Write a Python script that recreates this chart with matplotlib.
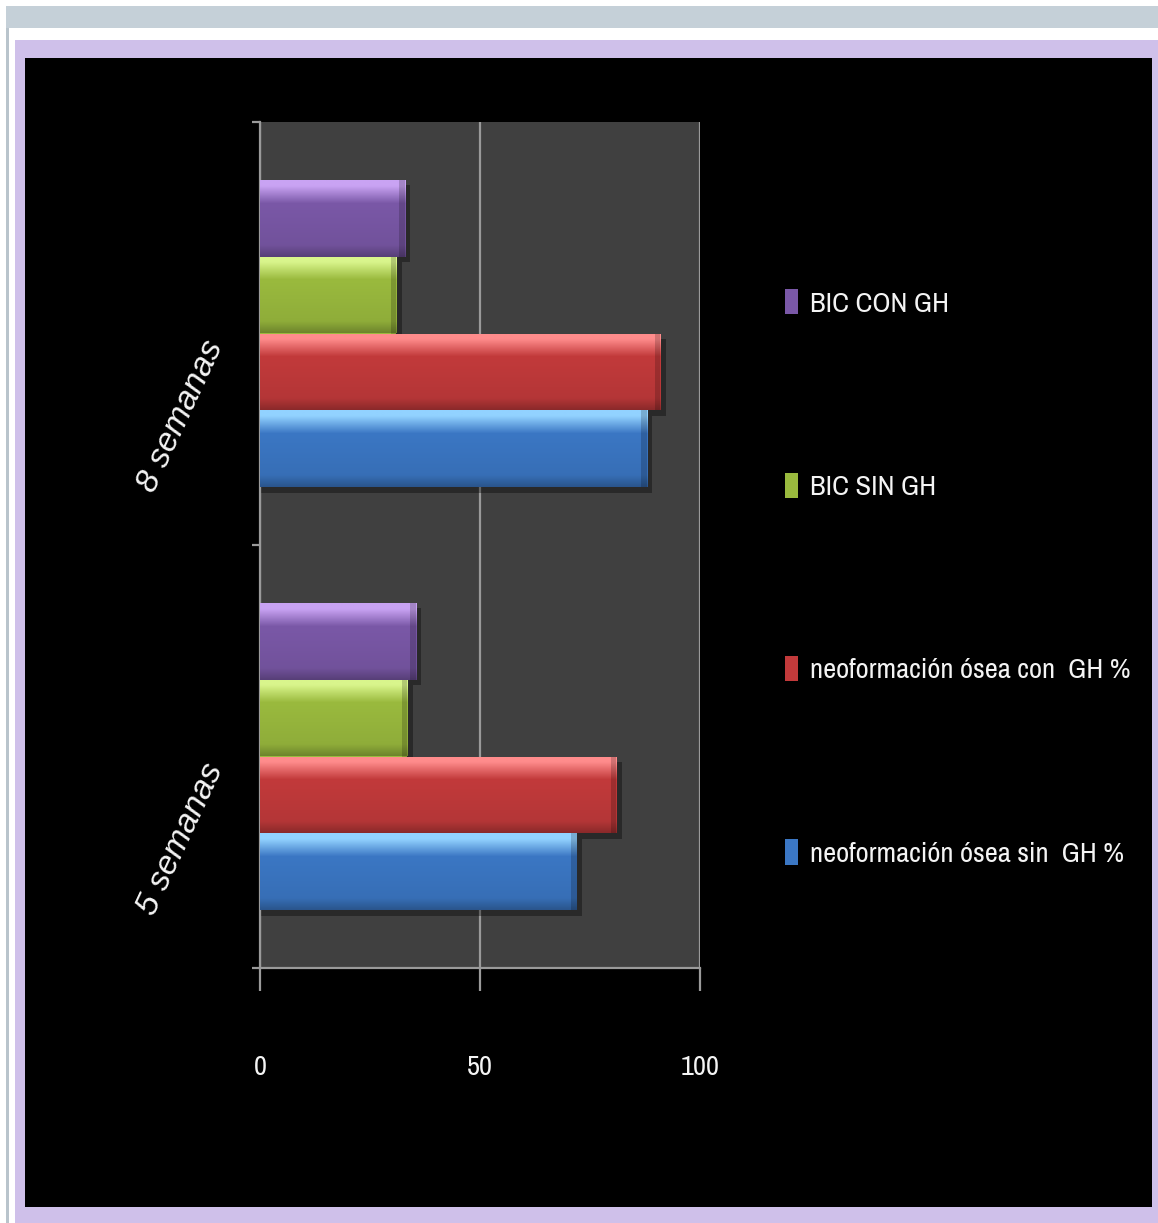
import numpy as np
import matplotlib
matplotlib.use("Agg")
import matplotlib.pyplot as plt
from matplotlib import font_manager as fm
from matplotlib.patches import Rectangle
from matplotlib.colors import to_rgb
from matplotlib.transforms import ScaledTranslation

# data
categories = ["5 semanas", "8 semanas"]
series_names = ["neoformación ósea sin  GH %", "neoformación ósea con  GH %",
                "BIC SIN GH", "BIC CON GH"]
sin_gh = [72, 88]
con_gh = [81, 91]
bic_sin = [33.5, 31]
bic_con = [35.5, 33]
series_values = [sin_gh, con_gh, bic_sin, bic_con]
x_ticks = [0, 50, 100]

body_colors = ["#3b77c4", "#c23a3b", "#9aba3e", "#7a58a7"]
light_colors = ["#92d2ff", "#ff8c8c", "#d9f58c", "#c9a3f3"]

txt_color = "#f4f4f4"
grid_color = "#9a9a9a"

# prefer a narrow face for the legend and the value axis if one is installed
narrow_file = None
for f in sorted(fm.fontManager.ttflist, key=lambda f: f.name):
    is_narrow = ("Narrow" in f.name or "Condensed" in f.name
                 or f.stretch in ("condensed", "semi-condensed", "extra-condensed"))
    if is_narrow and f.style == "normal" and f.weight in (400, "normal", "regular"):
        narrow_file = f.fname
        break
if narrow_file:
    narrow = fm.FontProperties(fname=narrow_file)
else:
    narrow = fm.FontProperties(family="Liberation Sans")

W, H = 1158, 1223
fig = plt.figure(figsize=(W / 100, H / 100), dpi=100)
fig.patch.set_facecolor("white")
renderer = fig.canvas.get_renderer()


def fit_size(text, target_px, base=20):
    # font size that gives the text the wanted width in pixels
    t = fig.text(0, 0, text, fontproperties=narrow, fontsize=base)
    w = t.get_window_extent(renderer).width
    t.remove()
    return base * target_px / w


def px_rect(x0, y0, x1, y1, color):
    # rectangle given in pixel coordinates from the top-left corner
    fig.patches.append(Rectangle((x0 / W, 1 - y1 / H), (x1 - x0) / W, (y1 - y0) / H,
                                 transform=fig.transFigure, facecolor=color,
                                 edgecolor="none", zorder=-10))


# window frame around the chart
px_rect(6, 6, W, 28, "#c5d0d8")
px_rect(6, 28, 9, H, "#b9c4cc")
px_rect(15, 40, W, H, "#cfc0ea")
px_rect(25, 58, 1152, 1207, "black")

ax = fig.add_axes([260 / W, 1 - 968 / H, 440 / W, 846 / H])
ax.set_facecolor("#404040")

n = len(series_values)
bar_h = 0.182
y = np.arange(len(categories))
offsets = (np.arange(n) - (n - 1) / 2) * bar_h

stops = [0.0, 0.07, 0.3, 0.85, 1.0]
handles = []
for i, vals in enumerate(series_values):
    body = np.array(to_rgb(body_colors[i]))
    light = np.array(to_rgb(light_colors[i]))
    cols = [light, light, body, body * 0.93, body * 0.72]
    t = np.linspace(0, 1, 64)
    grad = np.stack([np.interp(t, stops, [c[k] for c in cols]) for k in range(3)], axis=-1)
    grad = grad[:, None, :]
    bars = ax.barh(y + offsets[i], vals, height=bar_h, color=body_colors[i],
                   edgecolor="none", label=series_names[i], zorder=3)
    handles.append(bars)
    for b in bars:
        bx, by, bw, bh = b.get_x(), b.get_y(), b.get_width(), b.get_height()
        # soft shadow under each bar
        ax.add_patch(Rectangle((bx, by - 0.012), bw + 1.2, bh, facecolor="black",
                               alpha=0.35, edgecolor="none", zorder=2))
        im = ax.imshow(grad, extent=(bx, bx + bw, by, by + bh), aspect="auto",
                       interpolation="bilinear", zorder=4)
        im.set_clip_path(b)
        # darker bevel at the bar end
        ax.add_patch(Rectangle((bx + bw - 1.3, by), 1.3, bh, facecolor="black",
                               alpha=0.18, edgecolor="none", zorder=5))

ax.set_xlim(0, 100)
ax.set_ylim(-0.5, 1.5)

tick_fs = fit_size("100", 39)
ax.set_xticks(x_ticks)
ax.set_xticklabels([str(v) for v in x_ticks], fontproperties=narrow, color=txt_color)
for lab in ax.get_xticklabels():
    lab.set_fontsize(tick_fs)
ax.tick_params(axis="x", length=16.5, width=1.6, color=grid_color, pad=46)
ax.xaxis.grid(True, color=grid_color, linewidth=1.6, zorder=1)
ax.set_axisbelow(True)

ax.set_yticks(y)
ax.set_yticklabels(categories, family="Liberation Sans", style="italic", fontsize=24,
                   color=txt_color, rotation=65, ha="right", va="center",
                   rotation_mode="anchor")
ax.tick_params(axis="y", which="major", length=0, pad=32)
# nudge the slanted category names down a little
shift = ScaledTranslation(0, -9 / 100, fig.dpi_scale_trans)
for lab in ax.get_yticklabels():
    lab.set_transform(lab.get_transform() + shift)
ax.set_yticks([-0.5, 0.5, 1.5], minor=True)
ax.tick_params(axis="y", which="minor", length=6, width=1.6, color=grid_color)

for side in ["top", "right"]:
    ax.spines[side].set_visible(False)
for side in ["left", "bottom"]:
    ax.spines[side].set_color(grid_color)
    ax.spines[side].set_linewidth(1.6)

leg_fs = fit_size(series_names[1], 320)
leg_px = leg_fs * 100 / 72
leg_prop = narrow.copy()
leg_prop.set_size(leg_fs)
leg = ax.legend(handles[::-1], series_names[::-1], loc="center left",
                bbox_to_anchor=(785 / W, 1 - 578 / H), bbox_transform=fig.transFigure,
                frameon=False, borderpad=0, borderaxespad=0, prop=leg_prop,
                handlelength=13 / leg_px, handleheight=28 / leg_px,
                handletextpad=12 / leg_px,
                labelspacing=(184 - 28) / leg_px)
for t in leg.get_texts():
    t.set_color(txt_color)

fig.savefig("out.png", dpi=100, facecolor=fig.get_facecolor())
